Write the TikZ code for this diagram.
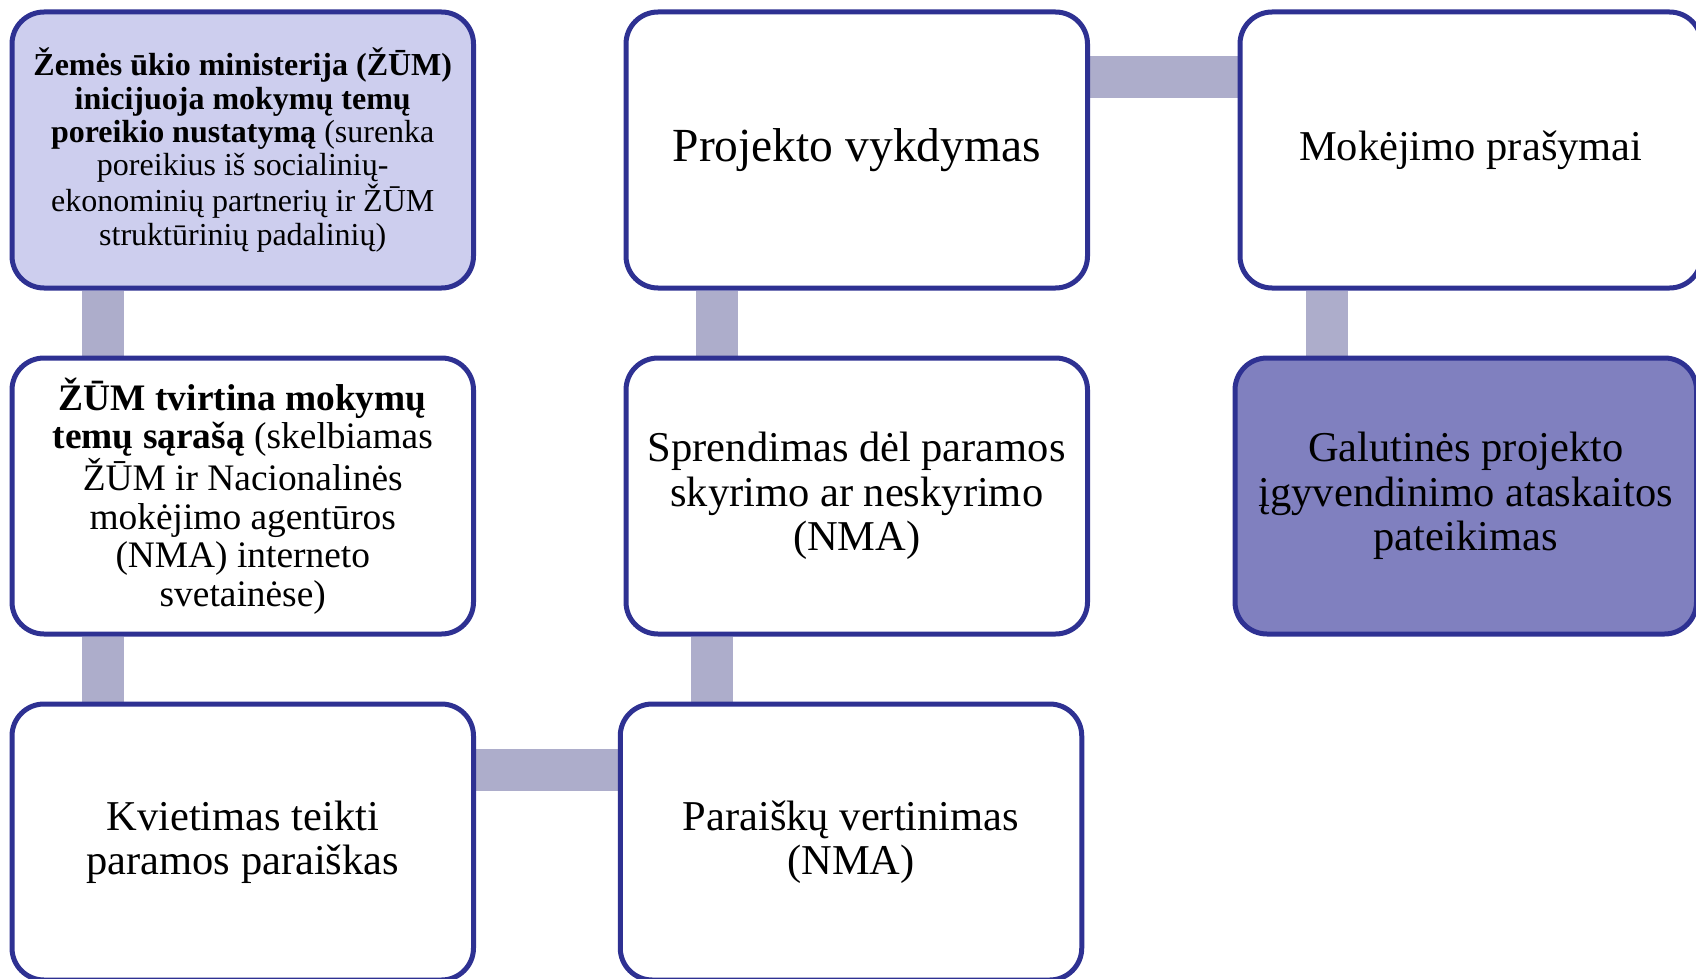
\documentclass[tikz,border=0pt]{standalone}
\usepackage{fontspec}
\setmainfont{Liberation Serif}
\pgfdeclarelayer{bg}
\pgfsetlayers{bg,main}
\definecolor{edgeblue}{RGB}{46,49,146}
\definecolor{connc}{RGB}{173,173,203}
\definecolor{lightfill}{RGB}{205,206,238}
\definecolor{darkfill}{RGB}{128,128,191}
\tikzset{
  stepbox/.style={draw=edgeblue, line width=2.5pt, rounded corners=16pt,
    fill=white, minimum width=230.75pt, minimum height=138pt,
    inner sep=0pt, align=center, text=black},
  bigtext/.style={font=\fontsize{21.25}{22.2}\selectfont},
  conn/.style={draw=connc, line width=21pt}
}
\begin{document}
\begin{tikzpicture}[x=0.5pt,y=-0.5pt]
\useasboundingbox (0,0) rectangle (1696,979);
\node[stepbox, fill=lightfill, font=\fontsize{16}{16.6}\selectfont] (b1) at (242.75,150)
  {\textbf{Žemės ūkio ministerija (ŽŪM)}\\\textbf{inicijuoja mokymų temų}\\\textbf{poreikio nustatymą} (surenka\\poreikius iš socialinių-\\ekonominių partnerių ir ŽŪM\\struktūrinių padalinių)};
\node[stepbox, font=\fontsize{23.75}{24.6}\selectfont] (b2) at (856.75,150) {Projekto vykdymas};
\node[stepbox, bigtext] (b3) at (1470.75,150) {Mokėjimo prašymai};
\node[stepbox, font=\fontsize{18.7}{19.3}\selectfont] (b4) at (242.75,496)
  {\textbf{ŽŪM tvirtina mokymų}\\\textbf{temų sąrašą} (skelbiamas\\ŽŪM ir Nacionalinės\\mokėjimo agentūros\\(NMA) interneto\\svetainėse)};
\node[stepbox, bigtext] (b5) at (856.75,496) {Sprendimas dėl paramos\\skyrimo ar neskyrimo\\(NMA)};
\node[stepbox, bigtext, fill=darkfill] (b6) at (1465.75,496) {Galutinės projekto\\įgyvendinimo ataskaitos\\pateikimas};
\node[stepbox, bigtext] (b7) at (242.75,842) {Kvietimas teikti\\paramos paraiškas};
\node[stepbox, bigtext] (b8) at (851,842) {Paraiškų vertinimas\\(NMA)};
\begin{pgfonlayer}{bg}
\draw[conn] ([xshift=46.5pt]b1.south west) -- ([xshift=46.5pt]b1.south west |- b4.north);
\draw[conn] ([xshift=46.5pt]b4.south west) -- ([xshift=46.5pt]b4.south west |- b7.north);
\draw[conn] ([yshift=-34pt]b7.north east) -- ([yshift=-34pt]b7.north east -| b8.west);
\draw[conn] ([xshift=47.25pt]b8.north west) -- ([xshift=47.25pt]b8.north west |- b5.south);
\draw[conn] ([xshift=46.5pt]b5.north west) -- ([xshift=46.5pt]b5.north west |- b2.south);
\draw[conn] ([yshift=-34pt]b2.north east) -- ([yshift=-34pt]b2.north east -| b3.west);
\draw[conn] ([xshift=44.5pt]b3.south west) -- ([xshift=44.5pt]b3.south west |- b6.north);
\end{pgfonlayer}
\end{tikzpicture}
\end{document}
